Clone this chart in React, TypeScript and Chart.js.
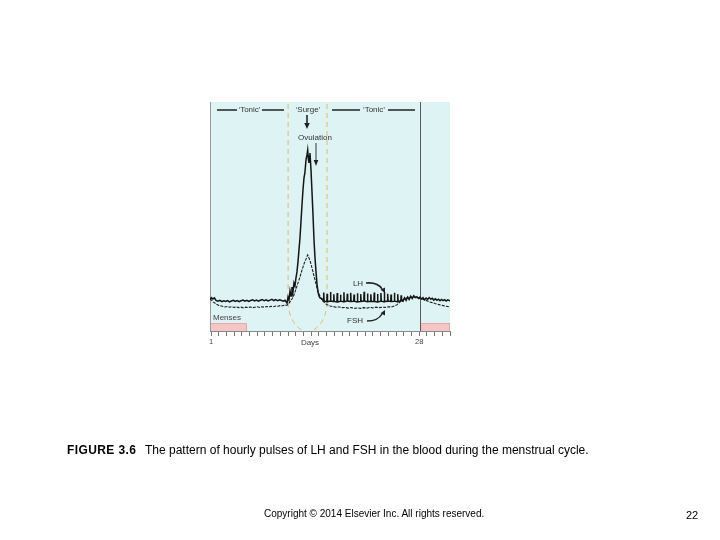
import React, { useEffect, useRef } from "react";
import { Chart, registerables } from "chart.js";

Chart.register(...registerables);

// ---- x axis (days of the cycle) ----
const dayTicks = [1, 2, 3, 4, 5, 6, 7, 8, 9, 10, 11, 12, 13, 14, 15, 16, 17, 18, 19, 20, 21, 22, 23, 24, 25, 26, 27, 28, 29, 30, 31, 32];
const labelledDays = [1, 28];
const dayMin = 0.87;
const dayMax = 32;
const cycleEndDay = 28.15;
const mensesSpans: [number, number][] = [[0.87, 5.65], [28.15, 32]];
const surgeWindow: [number, number] = [11, 16.05];

// ---- LH (day, relative level) ----
const lhFollicular: [number, number][] = [
  [0.87, 13.6], [1.05, 14.6], [1.25, 14.0], [1.45, 14.5], [1.65, 13.4], [1.9, 13.0], [2.15, 13.4], [2.4, 12.8],
  [2.65, 13.2], [2.9, 12.9], [3.15, 13.3], [3.4, 12.7], [3.65, 13.1], [3.9, 13.4], [4.15, 12.9], [4.4, 13.3],
  [4.65, 12.8], [4.9, 13.2], [5.15, 13.5], [5.4, 13.0], [5.65, 13.4], [5.9, 12.9], [6.15, 13.3], [6.4, 13.6],
  [6.65, 13.1], [6.9, 13.5], [7.15, 13.0], [7.4, 13.4], [7.65, 13.7], [7.9, 13.2], [8.15, 13.6], [8.4, 13.1],
  [8.65, 13.5], [8.9, 13.8], [9.15, 13.3], [9.4, 13.7], [9.65, 13.2], [9.9, 13.6], [10.15, 13.3], [10.4, 13.0],
  [10.6, 13.4], [10.86, 12.2],
];
const lhSurge: [number, number][] = [
  [10.99, 14.8], [11.12, 13.5], [11.25, 17.5], [11.38, 15.3], [11.5, 19.2], [11.63, 17.0], [11.76, 21.0],
  [11.89, 19.7], [12.02, 23.1], [12.15, 25.8], [12.28, 30.1], [12.41, 35.4], [12.54, 40.6], [12.67, 47.6],
  [12.8, 55.0], [12.93, 61.6], [13.06, 66.8], [13.19, 69.4], [13.32, 74.7], [13.45, 76.9], [13.54, 79.0],
  [13.64, 74.7], [13.71, 73.4], [13.77, 76.4], [13.84, 77.7], [13.97, 70.3], [14.1, 60.7], [14.23, 50.7],
  [14.36, 39.7], [14.49, 31.9], [14.62, 25.8], [14.75, 20.5], [14.88, 17.0], [15.01, 15.3], [15.14, 14.4],
  [15.4, 14.0],
];
const lhPulses: [number, number][] = [
  [15.58, 13.0], [15.62, 16.8], [15.67, 13.0], [16.02, 12.8], [16.06, 16.2], [16.11, 12.8],
  [16.46, 13.1], [16.5, 17.0], [16.55, 13.1], [16.89, 12.9], [16.93, 16.0], [16.98, 12.9],
  [17.33, 12.7], [17.37, 16.6], [17.42, 12.7], [17.76, 13.0], [17.8, 15.8], [17.85, 13.0],
  [18.2, 12.8], [18.24, 16.9], [18.29, 12.8], [18.64, 13.1], [18.68, 16.3], [18.73, 13.1],
  [19.08, 12.9], [19.12, 16.7], [19.17, 12.9], [19.51, 13.0], [19.55, 15.9], [19.6, 13.0],
  [19.95, 12.7], [19.99, 16.5], [20.04, 12.7], [20.38, 12.9], [20.42, 16.1], [20.47, 12.9],
  [20.82, 13.1], [20.86, 17.1], [20.91, 13.1], [21.26, 12.8], [21.3, 16.4], [21.35, 12.8],
  [21.69, 13.0], [21.73, 16.0], [21.78, 13.0], [22.13, 12.9], [22.17, 16.8], [22.22, 12.9],
  [22.56, 12.7], [22.6, 16.2], [22.65, 12.7], [23.0, 13.0], [23.04, 16.6], [23.09, 13.0],
  [23.44, 12.8], [23.48, 17.0], [23.53, 12.8], [23.88, 13.1], [23.92, 16.3], [23.97, 13.1],
  [24.31, 12.9], [24.35, 15.9], [24.4, 12.9], [24.75, 13.0], [24.79, 16.7], [24.84, 13.0],
  [25.18, 12.8], [25.22, 16.1], [25.27, 12.8], [25.62, 13.2], [25.66, 15.6], [25.71, 13.2],
];
const lhLuteal: [number, number][] = [
  [25.9, 13.0], [26.1, 14.5], [26.3, 13.4], [26.5, 14.8], [26.7, 13.8], [26.9, 15.2], [27.1, 14.2], [27.3, 15.4],
  [27.5, 14.6], [27.7, 15.0], [27.9, 14.2], [28.1, 14.8], [28.3, 14.0], [28.5, 14.6], [28.7, 13.6], [28.9, 14.4],
  [29.1, 13.8], [29.3, 14.6], [29.5, 13.9], [29.7, 14.3], [29.9, 13.5], [30.1, 14.1], [30.3, 13.4], [30.5, 13.9],
  [30.7, 13.2], [30.9, 13.8], [31.1, 13.3], [31.3, 13.7], [31.5, 13.1], [31.7, 13.6], [32.0, 13.2],
];

// ---- FSH (day, relative level) ----
const fshFollicular: [number, number][] = [
  [0.87, 14.0], [1.1, 13.4], [1.3, 12.6], [1.5, 12.2], [1.7, 11.7], [1.95, 11.3], [2.2, 11.0], [2.5, 10.8],
  [2.8, 10.5], [3.1, 10.7], [3.4, 10.4], [3.7, 10.6], [4.0, 10.3], [4.3, 10.5], [4.6, 10.2], [4.9, 10.4],
  [5.2, 10.1], [5.5, 10.4], [5.8, 10.2], [6.1, 10.5], [6.4, 10.2], [6.7, 10.4], [7.0, 10.6], [7.3, 10.3],
  [7.6, 10.6], [7.9, 10.4], [8.2, 10.7], [8.5, 10.5], [8.8, 10.8], [9.1, 10.6], [9.4, 10.9], [9.7, 10.8],
  [10.0, 11.1], [10.3, 11.0], [10.6, 11.4], [10.85, 11.2],
];
const fshSurge: [number, number][] = [
  [10.99, 11.8], [11.12, 12.2], [11.25, 12.7], [11.38, 13.4], [11.5, 14.0], [11.63, 14.8], [11.76, 15.7],
  [11.89, 17.0], [12.02, 18.3], [12.15, 19.6], [12.28, 21.0], [12.41, 22.2], [12.54, 23.6], [12.67, 25.1],
  [12.8, 26.6], [12.93, 27.9], [13.06, 29.3], [13.19, 30.3], [13.32, 31.4], [13.43, 32.3], [13.54, 33.2],
  [13.62, 32.6], [13.71, 31.9], [13.84, 30.7], [13.97, 29.3], [14.1, 27.6], [14.23, 25.8], [14.36, 24.0],
  [14.49, 22.3], [14.62, 20.5], [14.75, 18.8], [14.88, 17.4], [15.01, 16.2], [15.14, 15.2], [15.27, 14.4],
  [15.4, 13.7], [15.53, 13.1], [15.72, 12.4], [15.92, 11.8], [16.15, 11.3], [16.43, 10.9],
];
const fshLuteal: [number, number][] = [
  [16.8, 10.7], [17.2, 10.4], [17.6, 10.5], [18.0, 10.2], [18.4, 10.3], [18.8, 10.0], [19.2, 10.2], [19.6, 9.9],
  [20.0, 10.1], [20.4, 9.9], [20.8, 10.2], [21.2, 10.0], [21.6, 10.3], [22.0, 10.1], [22.4, 10.4], [22.8, 10.2],
  [23.2, 10.4], [23.6, 10.3], [24.0, 10.6], [24.4, 10.5], [24.8, 10.9], [25.1, 11.4], [25.4, 12.3], [25.7, 13.2],
  [26.0, 14.0], [26.3, 14.3], [26.6, 14.7], [26.9, 14.6], [27.2, 14.9], [27.5, 14.7], [27.8, 14.5], [28.1, 14.2],
  [28.4, 14.0], [28.75, 13.5], [29.1, 13.1], [29.4, 12.7], [29.7, 12.4], [30.05, 12.0], [30.4, 11.7], [30.7, 11.4],
  [31.0, 11.2], [31.35, 10.9], [31.7, 10.7], [32.0, 10.5],
];

const FONT = '"Liberation Sans", Arial, Helvetica, sans-serif';

function arrowHead(ctx: CanvasRenderingContext2D, x: number, y: number, angle: number, len: number, half: number) {
  ctx.save();
  ctx.translate(x, y);
  ctx.rotate(angle);
  ctx.beginPath();
  ctx.moveTo(0, 0);
  ctx.lineTo(-len, -half);
  ctx.lineTo(-len, half);
  ctx.closePath();
  ctx.fill();
  ctx.restore();
}

const slidePlugin = {
  id: "slideDecor",
  beforeDraw(chart: any) {
    const { ctx, chartArea, scales } = chart;
    const { left, top, right, bottom } = chartArea;
    const x = scales.x;
    ctx.save();
    ctx.fillStyle = "#def3f3";
    ctx.fillRect(left, top, right - left, bottom - top);
    mensesSpans.forEach(([a, b]) => {
      const xa = x.getPixelForValue(a);
      const xb = x.getPixelForValue(b);
      ctx.fillStyle = "#f6c6c6";
      ctx.fillRect(xa, bottom - 8, xb - xa, 8);
      ctx.strokeStyle = "#e2a4a4";
      ctx.lineWidth = 0.8;
      ctx.strokeRect(xa + 0.4, bottom - 8 + 0.4, xb - xa - 0.8, 8);
    });
    ctx.strokeStyle = "#9a9a9a";
    ctx.lineWidth = 1;
    ctx.beginPath();
    ctx.moveTo(left + 0.5, top);
    ctx.lineTo(left + 0.5, bottom);
    ctx.stroke();
    const xe = Math.round(x.getPixelForValue(cycleEndDay)) + 0.5;
    ctx.strokeStyle = "#5a5a5a";
    ctx.beginPath();
    ctx.moveTo(xe, top);
    ctx.lineTo(xe, bottom);
    ctx.stroke();
    const xs = x.getPixelForValue(surgeWindow[0]);
    const xf = x.getPixelForValue(surgeWindow[1]);
    ctx.strokeStyle = "rgba(226,178,98,0.9)";
    ctx.lineWidth = 1;
    ctx.setLineDash([5, 4]);
    ctx.beginPath();
    ctx.moveTo(xs, top + 2);
    ctx.lineTo(xs, bottom - 28);
    ctx.quadraticCurveTo(xs + 1, bottom - 8, xs + 15, bottom);
    ctx.stroke();
    ctx.beginPath();
    ctx.moveTo(xf, top + 2);
    ctx.lineTo(xf, bottom - 28);
    ctx.quadraticCurveTo(xf - 1, bottom - 8, xf - 15, bottom);
    ctx.stroke();
    ctx.setLineDash([]);
    ctx.restore();
  },
  afterDatasetsDraw(chart: any) {
    const { ctx, chartArea } = chart;
    const { bottom } = chartArea;
    ctx.save();
    ctx.fillStyle = "#333";
    ctx.strokeStyle = "#222";
    ctx.font = `8px ${FONT}`;
    ctx.textAlign = "center";
    ctx.textBaseline = "middle";

    const hy = 110;
    ctx.lineWidth = 1.6;
    ctx.beginPath();
    ctx.moveTo(217, hy); ctx.lineTo(237, hy);
    ctx.moveTo(262, hy); ctx.lineTo(284, hy);
    ctx.moveTo(332, hy); ctx.lineTo(360, hy);
    ctx.moveTo(388, hy); ctx.lineTo(415, hy);
    ctx.stroke();
    ctx.fillText("\u2018Tonic\u2019", 249.5, hy);
    ctx.fillText("\u2018Surge\u2019", 308, hy);
    ctx.fillText("\u2018Tonic\u2019", 374, hy);

    ctx.fillStyle = "#222";
    ctx.lineWidth = 1.6;
    ctx.beginPath();
    ctx.moveTo(307, 115); ctx.lineTo(307, 124);
    ctx.stroke();
    arrowHead(ctx, 307, 129, Math.PI / 2, 6, 2.8);

    ctx.fillStyle = "#333";
    ctx.fillText("Ovulation", 315, 138);
    ctx.lineWidth = 0.9;
    ctx.beginPath();
    ctx.moveTo(316, 143); ctx.lineTo(316, 161);
    ctx.stroke();
    ctx.fillStyle = "#222";
    arrowHead(ctx, 316, 166, Math.PI / 2, 6, 2.3);

    ctx.fillStyle = "#333";
    ctx.fillText("LH", 358, 284);
    ctx.fillText("FSH", 355, 321);
    ctx.lineWidth = 1.5;
    ctx.beginPath();
    ctx.moveTo(366, 283);
    ctx.quadraticCurveTo(378, 282, 382, 289);
    ctx.stroke();
    ctx.fillStyle = "#222";
    arrowHead(ctx, 385, 293, Math.atan2(6, 3), 5, 2.5);
    ctx.beginPath();
    ctx.moveTo(367, 321);
    ctx.quadraticCurveTo(378, 321, 382, 314);
    ctx.stroke();
    arrowHead(ctx, 385, 310, Math.atan2(-6, 3), 5, 2.5);

    ctx.fillStyle = "#444";
    ctx.textAlign = "left";
    ctx.fillText("Menses", 213, 318);
    ctx.textAlign = "center";
    ctx.fillText("Days", 310, bottom + 12);
    ctx.restore();
  },
};

export default function App() {
  const ref = useRef<HTMLCanvasElement>(null);
  useEffect(() => {
    const canvas = ref.current;
    if (!canvas) return;
    const toPoints = (rows: [number, number][]) => rows.map(([d, v]) => ({ x: d, y: v }));
    const chart = new Chart(canvas, {
      type: "line",
      data: {
        datasets: [
          {
            label: "LH",
            data: toPoints([...lhFollicular, ...lhSurge, ...lhPulses, ...lhLuteal]),
            borderColor: "#151515",
            borderWidth: 1.5,
            pointRadius: 0,
            tension: 0,
            fill: false,
          },
          {
            label: "FSH",
            data: toPoints([...fshFollicular, ...fshSurge, ...fshLuteal]),
            borderColor: "#1e1e1e",
            borderWidth: 1.1,
            borderDash: [3, 1.2],
            pointRadius: 0,
            tension: 0,
            fill: false,
          },
        ],
      },
      options: {
        animation: false,
        responsive: false,
        maintainAspectRatio: false,
        events: [],
        layout: { padding: { left: 210, top: 102, right: 270, bottom: 189 }, autoPadding: false },
        plugins: { legend: { display: false }, tooltip: { enabled: false } },
        scales: {
          x: {
            type: "linear",
            min: dayMin,
            max: dayMax,
            afterBuildTicks: (s: any) => {
              s.ticks = dayTicks.map((v) => ({ value: v }));
            },
            afterFit: (s: any) => {
              s.height = 20;
            },
            ticks: {
              autoSkip: false,
              maxRotation: 0,
              padding: 1,
              color: "#444",
              font: { size: 7.5, family: FONT },
              callback: (v: any) => (labelledDays.includes(Number(v)) ? String(v) : ""),
            },
            grid: { drawOnChartArea: false, drawTicks: true, tickLength: 5, color: "#777", lineWidth: 1 },
            border: { display: true, color: "#8a8a8a", width: 1 },
          },
          y: { display: false, min: 0, max: 100 },
        },
      },
      plugins: [slidePlugin],
    });
    return () => chart.destroy();
  }, []);

  const textBase: React.CSSProperties = {
    position: "absolute",
    fontFamily: FONT,
    color: "#000",
    whiteSpace: "nowrap",
    margin: 0,
  };

  return (
    <div style={{ position: "fixed", left: 0, top: 0, width: 720, height: 540, background: "#fff", overflow: "hidden" }}>
      <canvas ref={ref} width={720} height={540} style={{ position: "absolute", left: 0, top: 0, width: 720, height: 540 }} />
      <div style={{ ...textBase, left: 67, top: 443, fontSize: 12, lineHeight: "14px", fontWeight: "bold", letterSpacing: "0.4px" }}>
        FIGURE 3.6
      </div>
      <div style={{ ...textBase, left: 145, top: 443, fontSize: 12, lineHeight: "14px" }}>
        The pattern of hourly pulses of LH and FSH in the blood during the menstrual cycle.
      </div>
      <div style={{ ...textBase, left: 264, top: 507, fontSize: 10, lineHeight: "14px" }}>
        Copyright © 2014 Elsevier Inc. All rights reserved.
      </div>
      <div style={{ ...textBase, left: 686, top: 508, fontSize: 11, lineHeight: "14px" }}>22</div>
    </div>
  );
}
